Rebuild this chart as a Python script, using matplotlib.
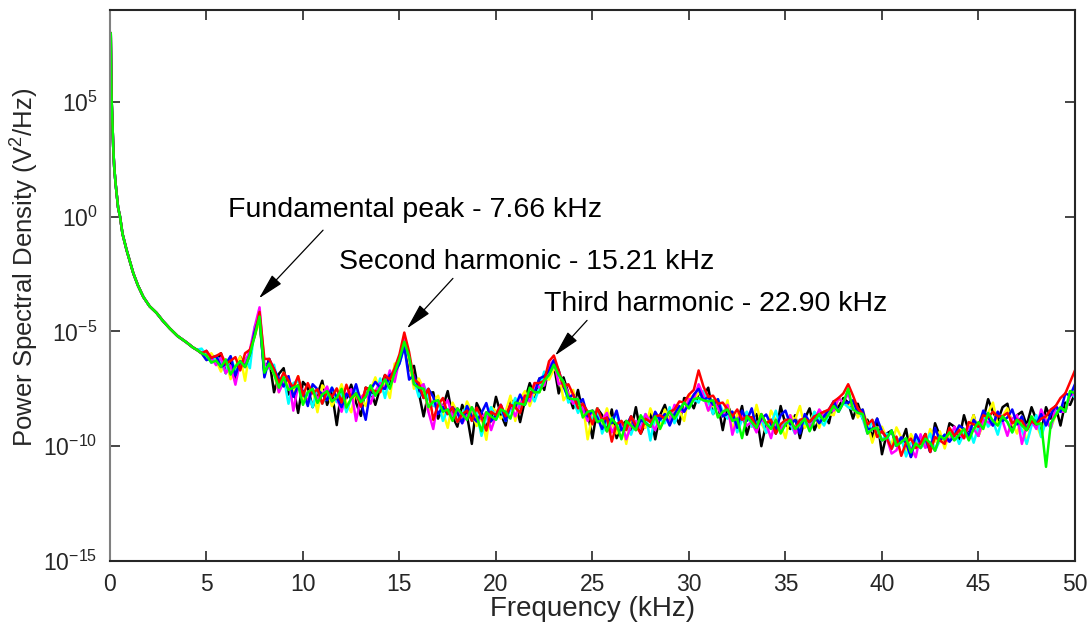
import numpy as np
import matplotlib
matplotlib.use("Agg")
from matplotlib import pyplot as plt

plt.rcParams['font.family'] = ['Liberation Sans', 'DejaVu Sans']
plt.rcParams['mathtext.fontset'] = 'custom'
plt.rcParams['mathtext.rm'] = 'Liberation Sans'

# smooth low-frequency part (kHz, log10 PSD) - same for all runs
low_freq = [0.0, 0.04, 0.08, 0.12, 0.17, 0.22, 0.29, 0.36, 0.42, 0.52, 0.65, 0.86,
            1.05, 1.21, 1.45, 1.73, 2.05, 2.42, 2.75, 3.1, 3.5, 3.97, 4.3, 4.5]
low_log = [4.8, 8.0, 5.2, 4.3, 3.0, 2.15, 1.45, 0.9, 0.4, 0.0, -0.75, -1.45,
           -2.0, -2.47, -3.0, -3.5, -3.9, -4.2, -4.55, -4.87, -5.2, -5.48, -5.7, -5.8]

# FFT bins from 4.75 to 50 kHz, 0.25 kHz apart
bin_freq = np.arange(4.75, 50.01, 0.25)

# centre of the noisy band (log10 PSD)
band_log = [
    -5.95, -6.05, -6.15, -6.27, -6.35, -6.42, -6.48, -6.52, -6.5, -6.35, -6.0, -5.2, -4.15,
    -6.2, -6.6, -6.85, -7.05, -7.2, -7.35, -7.45, -7.55, -7.6, -7.65, -7.7, -7.72, -7.75,
    -7.8, -7.85, -7.88, -7.9, -7.92, -7.92, -7.9, -7.88, -7.85, -7.75, -7.6, -7.45, -7.3,
    -7.1, -6.8, -6.2, -5.25, -6.3, -7.1, -7.45, -7.7, -7.9, -8.05, -8.2, -8.3, -8.4,
    -8.5, -8.55, -8.6, -8.65, -8.7, -8.72, -8.75, -8.72, -8.7, -8.65, -8.6, -8.5, -8.4,
    -8.3, -8.15, -8.0, -7.85, -7.65, -7.45, -7.15, -6.7, -6.25, -6.9, -7.4, -7.7, -7.95,
    -8.15, -8.35, -8.5, -8.65, -8.75, -8.85, -8.95, -9.0, -9.05, -9.1, -9.1, -9.1, -9.1,
    -9.05, -9.0, -8.95, -8.9, -8.85, -8.8, -8.7, -8.6, -8.45, -8.3, -8.15, -7.95, -7.5,
    -7.8, -8.05, -8.2, -8.35, -8.5, -8.6, -8.7, -8.8, -8.85, -8.9, -8.95, -9.0, -9.0,
    -9.02, -9.05, -9.05, -9.05, -9.05, -9.05, -9.05, -9.05, -9.0, -8.95, -8.9, -8.8, -8.7,
    -8.6, -8.45, -8.3, -8.1, -7.9, -8.2, -8.55, -8.8, -9.05, -9.25, -9.4, -9.55, -9.65,
    -9.72, -9.78, -9.82, -9.85, -9.87, -9.88, -9.88, -9.87, -9.85, -9.8, -9.75, -9.7, -9.6,
    -9.55, -9.5, -9.45, -9.35, -9.25, -9.15, -9.05, -8.95, -8.9, -8.9, -8.9, -8.95, -9.0,
    -9.05, -9.1, -9.1, -9.1, -9.05, -9.0, -8.9, -8.8, -8.65, -8.5, -8.3, -8.0, -7.7,
]

# deviation of each run from the band centre, in steps of 0.2 decade
dev_black = [
    0, 1, -1, 0, 2, -2, 1, -3, 2, -1, 0, 1, -2, -3, 2, -4, 1, 3, -2, 0, -5, 2, 1, -3, 0, 3,
    -2, 1, -6, 2, 0, 3, -1, -4, 2, 1, -3, 0, 2, -1, 1, 0, -1, -2, 3, -1, -5, 1, 2, -3, 0, 4,
    -1, -3, 2, 0, -6, 3, 1, -2, -1, 4, 0, -3, 2, 1, -4, 0, 3, -1, 2, -2, 1, -1, -4, 2, 0, -2,
    3, -1, 0, -5, 2, 1, -2, 3, -3, 0, 1, -1, 4, -2, 0, 2, -4, 1, 3, -1, 0, -3, 2, 1, -2, -1,
    0, 3, -2, 1, -4, 2, 0, -1, 3, -3, 1, 2, -5, 0, 1, -2, 4, 0, -1, 2, -3, 1, 3, -2, 0, 1,
    -2, 2, 0, 1, -1, -3, 2, 0, 1, -2, 3, -4, 1, 2, -1, 0, 3, -3, 1, 0, 2, -2, 4, 1, -1, 3,
    2, -1, 4, 0, 3, -2, 1, 5, 2, 0, 3, 4, -1, 2, 3, 0, 4, 1, -2, 3, 0, 2, -3, 1, -1, 0,
]
dev_yellow = [
    0, -1, 1, 0, -2, 1, -3, 0, 2, -4, 1, 0, -2, -2, 1, 0, -3, 2, 0, -1, 3, -2, 0, 1, -4, 2,
    1, -2, 0, 3, -1, -3, 2, 0, -2, 1, 3, -1, 0, -4, 2, -1, -1, 0, -2, 2, 1, -3, 0, 2, -1, -4,
    2, 0, -1, 3, 1, -2, 0, -5, 2, 1, -1, 0, 3, -3, 1, 2, -2, 0, -1, 1, -2, -2, 1, -3, 0, 2,
    -1, 1, -6, 0, 2, -1, 3, 0, -2, 1, -4, 2, 0, 1, -1, 3, 0, -2, 2, -1, 1, 0, -3, 2, 0, -1,
    1, -2, 0, 2, -1, 3, -3, 1, 0, 2, -1, 4, 0, -2, 3, 1, 0, -3, 2, 1, 4, -1, 0, 2, -2, 1,
    0, -1, 2, 0, -2, 1, -1, 2, 0, -3, 1, 2, 0, -1, 3, 1, -2, 2, 0, 1, -1, 3, 0, 2, -2, 1,
    0, 2, -1, 1, 3, -2, 0, 2, 4, -1, 1, 3, 0, -2, 2, -4, 1, 0, -3, 1, -2, 0, 1, -1, 2, 0,
]
dev_cyan = [
    1, 0, -1, 1, 0, -2, 2, -1, 0, 1, -3, 2, -1, -2, 0, 2, -2, 1, -4, 1, 2, -1, 0, -3, 1, -2,
    0, 2, -1, 1, -3, 0, 2, -2, 1, 0, -1, 2, -3, 1, 0, -1, -2, 1, 0, -2, 2, 0, -1, 1, -3, 0,
    1, -2, 0, 2, -1, 1, -4, 0, 2, -1, 1, -2, 0, 2, -1, 0, 1, -2, 0, 2, -1, -1, 0, 1, -2, 0,
    -2, 1, 0, -1, 2, -3, 0, 1, 2, -1, 0, -2, 1, 0, 2, -4, 1, 0, -1, 2, -2, 0, 1, -1, 0, -3,
    1, 0, -2, 2, 0, -1, 1, -3, 0, 2, -1, 0, 1, -2, 0, 3, -1, 1, 0, -2, 1, 0, -1, 2, 0, -2,
    0, 1, -1, 0, -2, -1, 1, 0, -2, 2, 0, -1, 1, -2, 0, 1, -3, 0, 1, -1, 0, 2, -2, 0, 1, -1,
    1, -2, 0, 1, -3, 0, 2, -1, 0, -3, 1, 0, -2, 1, -1, -4, 0, 2, -3, 0, -2, 1, 0, -1, 2, -1,
]
dev_magenta = [
    0, 1, 0, -1, 1, -2, 0, -4, 1, 0, 1, 2, 1, -1, 0, 1, -3, 0, 2, -5, 1, 0, -2, 1, -1, 0,
    2, -1, 0, -3, 1, 2, -5, 0, 1, -2, 0, 1, -1, 2, -2, 0, 0, 1, -1, 0, 2, -3, -6, 1, 0, 2,
    -1, 1, -2, 0, 2, -1, 0, 1, -3, 0, 2, -1, 1, -2, 0, 1, -1, 2, 0, -1, 1, 0, -2, 1, 0, -1,
    1, 0, -2, 1, -1, 0, 2, -2, 0, 1, -3, 0, 1, -1, 2, 0, -2, 1, 0, -1, 2, 0, -1, 1, 0, 1,
    0, -2, 1, 0, -1, 2, -4, 0, 1, -1, 0, -2, 1, 0, -3, 1, -1, 0, 2, -2, 0, 1, -1, 0, 2, 0,
    1, 0, 2, 0, 1, -1, 0, 1, -2, 0, 1, -1, 0, -3, -2, 1, 0, -1, -3, 2, -1, 0, -2, 1, 0, -1,
    2, 0, -1, 1, 0, -2, 1, 0, -1, 2, 0, -3, 1, 2, -4, 0, 1, -1, 3, 0, -2, 2, 0, -1, 1, 0,
]
dev_blue = [
    0, -1, 0, 1, -1, 0, 2, -2, 1, -1, 0, 1, -1, -4, 2, 1, 0, -1, 2, -2, 1, 0, -3, 2, 1, 0,
    -1, 2, 0, -2, 1, 0, 3, -1, -5, 1, 2, 0, -1, 1, 0, -1, -2, -4, 1, 0, -1, 2, 1, -2, 0, -1,
    1, 0, -2, 2, 0, -1, 1, 3, -1, 0, 2, -2, 1, 0, 2, -1, 1, 0, 2, 1, 0, 0, 1, 0, -1, 1,
    0, 2, -1, 1, 0, -2, 1, 0, 3, -1, 0, 2, -1, 1, 0, -1, 2, 0, 1, -2, 0, 1, -1, 0, 1, 0,
    -1, 1, 0, 2, -1, 0, 1, -2, 2, 0, 3, -1, 1, 2, 0, -1, 2, 3, 0, 1, -2, 2, 0, 1, -1, 0,
    1, 2, -1, 0, -1, 1, 0, 2, -1, 0, 3, 1, 0, 2, -1, 1, 0, -3, 2, 0, 1, -2, 3, 0, 1, -1,
    0, 2, 1, -1, 2, 0, 3, 1, -1, 2, 0, 1, 3, 0, 2, -1, 1, 0, 2, -1, 1, 2, 0, 3, 1, 2,
]
dev_red = [
    0, 1, 0, 1, 2, 0, 1, 2, -1, 2, 1, 0, 0, 0, 2, 1, -1, 2, 1, 0, 3, -1, 2, 0, 1, -2,
    1, 0, 2, -1, 3, 0, 1, -2, 2, 1, 0, -1, 2, 0, 1, 1, 1, 2, 0, 1, -1, 2, -4, 0, 2, -1,
    1, -2, 0, 1, -1, 2, 0, -3, 1, 0, 2, -1, 1, 0, -2, 1, 0, 2, 1, 0, 2, 1, 1, 0, 2, 1,
    -1, 1, 0, -2, 2, 0, 1, -4, 0, 1, -1, 2, 0, -2, 1, 0, 1, 1, 0, 1, 1, 2, 1, 2, 2, 4,
    2, 1, 2, 1, 2, 1, 0, 2, 0, 1, 1, -1, 2, 0, 1, -2, 0, 1, 1, -1, 1, 1, 0, 1, 1, 1,
    1, 2, 2, 2, 3, 2, 1, 1, 0, 2, -1, 1, 0, -2, 1, -3, 0, 1, -1, 0, 2, -2, 1, 0, -1, 2,
    0, 1, -1, 2, 1, 0, 2, 1, 2, 1, 1, 2, 0, 1, 1, -1, 1, 0, 1, 1, 2, 2, 3, 3, 4, 5,
]
dev_green = [
    0, 0, -1, 0, -1, 1, -2, 0, 1, -1, 0, 0, -1, -3, 1, 0, -2, 1, -1, 0, 1, -3, 0, 1, -2, 0,
    1, -1, 0, 2, -2, 0, 1, -1, 0, 2, -1, 0, 1, -2, 0, 0, -1, 1, -1, 0, 1, -2, 0, 1, -1, 0,
    -2, 1, 0, -1, 2, 0, -3, 1, 0, -1, 1, 0, -2, 1, 0, -1, 2, 0, -1, 0, -1, -1, 0, 1, -1, 0,
    1, -2, 0, 1, -1, 0, -2, 1, 0, -3, 1, 0, -1, 2, 0, -1, 1, -2, 0, 1, -1, 0, 1, -1, 0, -2,
    -1, 0, 1, -2, 0, 1, -1, 0, -4, 1, 0, -1, 2, 0, -1, 1, -2, 0, 1, -1, 0, 1, -2, 0, 1, -1,
    0, 1, -1, 0, 2, -1, 0, 1, -2, 0, 1, -1, 0, 2, -1, 0, 1, -2, 0, -1, 1, 0, -2, 1, 0, 1,
    -1, 0, 1, -2, 0, 1, -1, 2, 0, -1, 1, 0, -2, 1, 0, -1, 2, 0, 0, -10, -1, 0, 1, -1, 2, 0,
]

runs = [
    (dev_black, 'black'),
    (dev_yellow, 'yellow'),
    (dev_cyan, 'cyan'),
    (dev_magenta, 'magenta'),
    (dev_blue, 'blue'),
    (dev_red, 'red'),
    (dev_green, '#00ff00'),
]

freq = np.concatenate([low_freq, bin_freq])

fig = plt.figure(figsize=(10.91, 6.27), dpi=100)
ax = fig.add_axes([0.1008, 0.1053, 0.8845, 0.8787])

for dev, col in runs:
    log_psd = np.concatenate([low_log, np.array(band_log) + np.array(dev) * 0.2])
    ax.semilogy(freq, 10 ** log_psd, color=col, linewidth=1.8)

ax.set_xlim(0, 50)
ax.set_ylim(1e-15, 1e9)
ax.set_xticks(range(0, 51, 5))
ax.set_yticks([1e-15, 1e-10, 1e-5, 1e0, 1e5])
ax.minorticks_off()
ax.tick_params(direction='in', length=7, width=1.2, top=True, right=True,
               labelsize=16.5, colors='#262626', pad=9)
for side in ['top', 'right', 'bottom']:
    ax.spines[side].set_color('#262626')
    ax.spines[side].set_linewidth(1.5)
ax.spines['left'].set_color('#808080')
ax.spines['left'].set_linewidth(1.5)

ax.set_xlabel('Frequency (kHz)', fontsize=20, color='#262626', labelpad=0)
ax.set_ylabel('Power Spectral Density (V$^2$/Hz)', fontsize=18.5, color='#262626')
ax.yaxis.set_label_coords(-0.072, 0.532)

arrow = dict(arrowstyle='-|>,head_length=0.9,head_width=0.22', color='black',
             lw=0.9, mutation_scale=18, shrinkA=0, shrinkB=0)
ax.annotate('', xy=(7.72, 10 ** -3.56), xytext=(11.04, 10 ** -0.59), arrowprops=arrow)
ax.annotate('', xy=(15.39, 10 ** -4.87), xytext=(17.77, 10 ** -2.69), arrowprops=arrow)
ax.annotate('', xy=(23.06, 10 ** -6.05), xytext=(24.72, 10 ** -4.52), arrowprops=arrow)

ax.text(6.11, 10 ** 0.28, 'Fundamental peak - 7.66 kHz', fontsize=20.5, va='center', ha='left')
ax.text(11.87, 10 ** -1.99, 'Second harmonic - 15.21 kHz', fontsize=20.5, va='center', ha='left')
ax.text(22.49, 10 ** -3.82, 'Third harmonic - 22.90 kHz', fontsize=20.5, va='center', ha='left')

fig.savefig('out.png', dpi=100)
